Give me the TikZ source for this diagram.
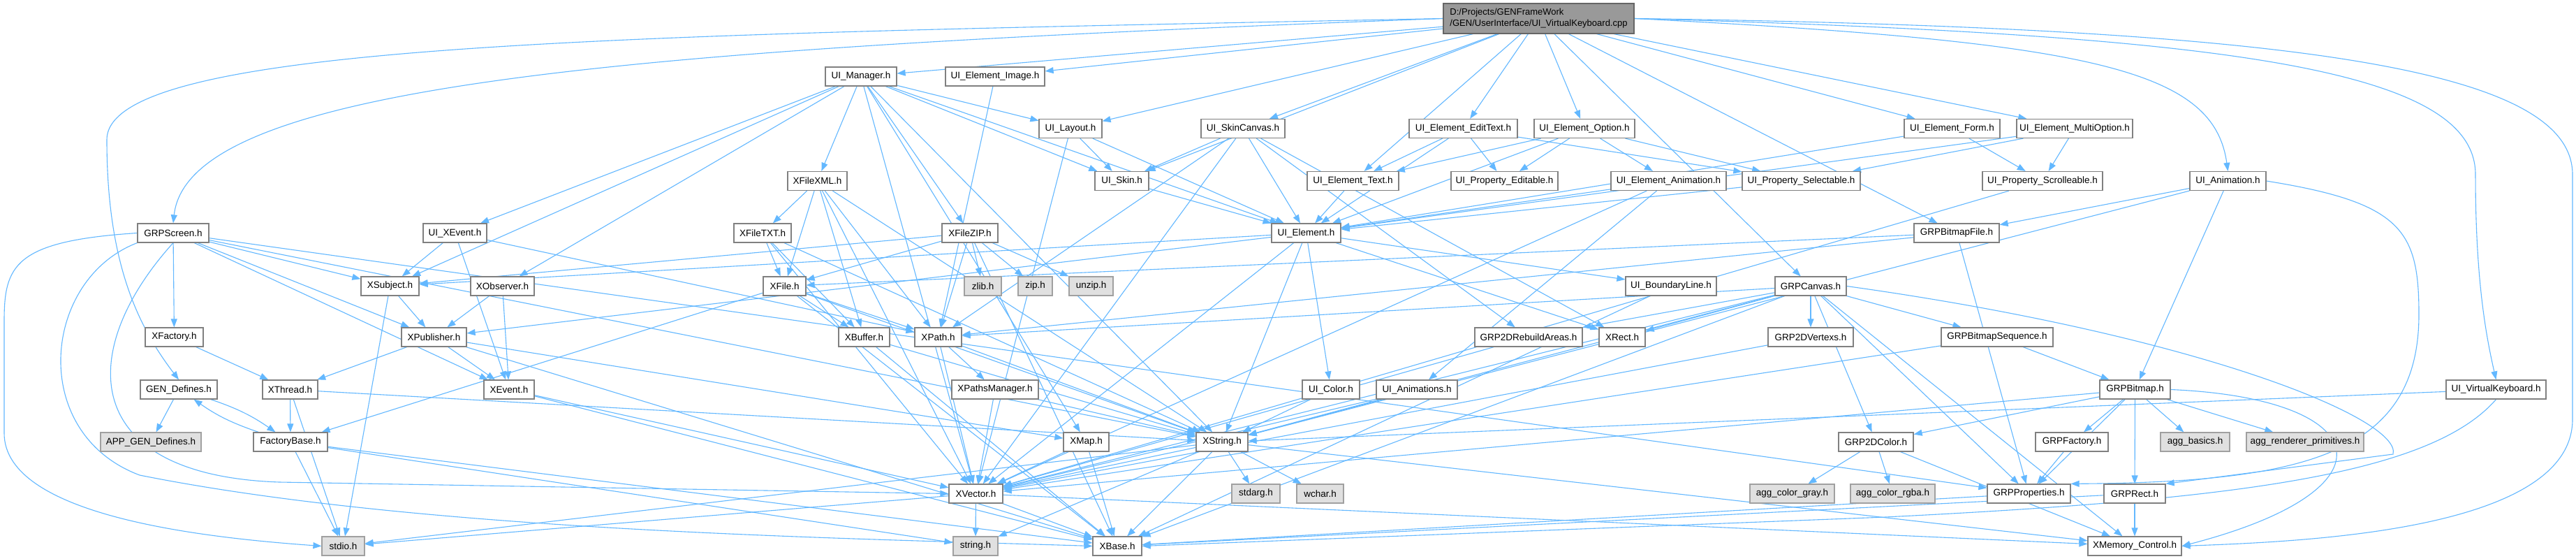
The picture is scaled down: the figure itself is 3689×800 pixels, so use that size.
\documentclass[tikz,border=0pt]{standalone}
\usepackage{fontspec}
\setmainfont{Liberation Sans}
\usetikzlibrary{arrows.meta}
\definecolor{edgec}{HTML}{63B8FF}
\definecolor{bord}{HTML}{808080}
\definecolor{gfill}{HTML}{E0E0E0}
\definecolor{gbord}{HTML}{A0A0A0}
\definecolor{mfill}{HTML}{999999}
\definecolor{mbord}{HTML}{666666}
\pgfdeclarelayer{bg}
\pgfsetlayers{bg,main}
\begin{document}
\begin{tikzpicture}[x=1pt,y=-1pt,
  box/.style={draw=bord, fill=white, line width=1.2pt, minimum height=27pt, inner sep=0pt, font=\fontsize{13.5}{15}\selectfont},
  gbox/.style={box, draw=gbord, fill=gfill},
  mbox/.style={box, draw=mbord, fill=mfill, minimum height=43pt, align=left, font=\fontsize{13}{16}\selectfont},
  inc/.style={draw=edgec, line width=1.1pt, -{Triangle[length=12pt,width=9pt]}}]
\useasboundingbox (0,0) rectangle (3689,800);
\begin{pgfonlayer}{bg}
\fill[white] (0,0) rectangle (3689,800);
\end{pgfonlayer}
% nodes
\node[mbox, minimum width=273pt] (M) at (2203.5,26.5) {D:/Projects/GENFrameWork\\/GEN/UserInterface/UI\_VirtualKeyboard.cpp};
\node[box, minimum width=102pt] (UIManager) at (1233,109.5) {UI\_Manager.h};
\node[box, minimum width=142pt] (UIElemImage) at (1425,109.5) {UI\_Element\_Image.h};
\node[box, minimum width=90pt] (UILayout) at (1533,184) {UI\_Layout.h};
\node[box, minimum width=120pt] (UISkinCanvas) at (1780,184) {UI\_SkinCanvas.h};
\node[box, minimum width=155pt] (UIElemEditText) at (2095.5,184) {UI\_Element\_EditText.h};
\node[box, minimum width=144pt] (UIElemOption) at (2269,184) {UI\_Element\_Option.h};
\node[box, minimum width=137pt] (UIElemForm) at (2795.5,184) {UI\_Element\_Form.h};
\node[box, minimum width=166pt] (UIElemMulti) at (2971,184) {UI\_Element\_MultiOption.h};
\node[box, minimum width=85pt] (XFileXML) at (1170.5,259) {XFileXML.h};
\node[box, minimum width=77pt] (UISkin) at (1606.5,259) {UI\_Skin.h};
\node[box, minimum width=131pt] (UIElemText) at (1937.5,259) {UI\_Element\_Text.h};
\node[box, minimum width=153pt] (UIPropEditable) at (2154.5,259) {UI\_Property\_Editable.h};
\node[box, minimum width=165pt] (UIElemAnimation) at (2389.5,259) {UI\_Element\_Animation.h};
\node[box, minimum width=169pt] (UIPropSelectable) at (2579.5,259) {UI\_Property\_Selectable.h};
\node[box, minimum width=172pt] (UIPropScrolleable) at (2925,259) {UI\_Property\_Scrolleable.h};
\node[box, minimum width=109pt] (UIAnimation) at (3190.5,259) {UI\_Animation.h};
\node[box, minimum width=102pt] (GRPScreen) at (248,333.5) {GRPScreen.h};
\node[box, minimum width=91pt] (UIXEvent) at (651.5,333.5) {UI\_XEvent.h};
\node[box, minimum width=82pt] (XFileTXT) at (1092,333.5) {XFileTXT.h};
\node[box, minimum width=80pt] (XFileZIP) at (1389,333.5) {XFileZIP.h};
\node[box, minimum width=99pt] (UIElement) at (1870.5,333.5) {UI\_Element.h};
\node[box, minimum width=122pt] (GRPBitmapFile) at (2802,333.5) {GRPBitmapFile.h};
\node[box, minimum width=83pt] (XSubject) at (558.5,409.5) {XSubject.h};
\node[box, minimum width=91pt] (XObserver) at (719.5,409.5) {XObserver.h};
\node[box, minimum width=61pt] (XFile) at (1123.5,409.5) {XFile.h};
\node[gbox, minimum width=53pt] (zlib) at (1407.5,409.5) {zlib.h};
\node[gbox, minimum width=49pt] (zip) at (1482.5,409.5) {zip.h};
\node[gbox, minimum width=63pt] (unzip) at (1562.5,409.5) {unzip.h};
\node[box, minimum width=130pt] (UIBoundaryLine) at (2393,409.5) {UI\_BoundaryLine.h};
\node[box, minimum width=102pt] (GRPCanvas) at (2593,409.5) {GRPCanvas.h};
\node[box, minimum width=83pt] (XFactory) at (249.5,482.5) {XFactory.h};
\node[box, minimum width=93pt] (XPublisher) at (621.5,482.5) {XPublisher.h};
\node[box, minimum width=73pt] (XBuffer) at (1237.5,482.5) {XBuffer.h};
\node[box, minimum width=67pt] (XPath) at (1343.5,482.5) {XPath.h};
\node[box, minimum width=154pt] (GRP2DRebuildAreas) at (2189,482.5) {GRP2DRebuildAreas.h};
\node[box, minimum width=66pt] (XRect) at (2323,482.5) {XRect.h};
\node[box, minimum width=122pt] (GRP2DVertexs) at (2593,482.5) {GRP2DVertexs.h};
\node[box, minimum width=160pt] (GRPBitmapSequence) at (2860,482.5) {GRPBitmapSequence.h};
\node[box, minimum width=110pt] (GENDefines) at (256,557.5) {GEN\_Defines.h};
\node[box, minimum width=79pt] (XThread) at (415.5,557.5) {XThread.h};
\node[box, minimum width=72pt] (XEvent) at (729,557.5) {XEvent.h};
\node[box, minimum width=124pt] (XPathsManager) at (1425,557.5) {XPathsManager.h};
\node[box, minimum width=82pt] (UIColor) at (1906,557.5) {UI\_Color.h};
\node[box, minimum width=116pt] (UIAnimations) at (2029,557.5) {UI\_Animations.h};
\node[box, minimum width=101pt] (GRPBitmap) at (3057.5,557.5) {GRPBitmap.h};
\node[box, minimum width=143pt] (UIVK) at (3574.5,557.5) {UI\_VirtualKeyboard.h};
\node[gbox, minimum width=144pt] (APPGEN) at (216,632.5) {APP\_GEN\_Defines.h};
\node[box, minimum width=106pt] (FactoryBase) at (416,632.5) {FactoryBase.h};
\node[box, minimum width=65pt] (XMap) at (1555.5,632.5) {XMap.h};
\node[box, minimum width=74pt] (XString) at (1750,632.5) {XString.h};
\node[box, minimum width=107pt] (GRP2DColor) at (2686.5,632.5) {GRP2DColor.h};
\node[box, minimum width=104pt] (GRPFactory) at (2967,632.5) {GRPFactory.h};
\node[gbox, minimum width=99pt] (aggbasics) at (3143.5,632.5) {agg\_basics.h};
\node[gbox, minimum width=168pt] (aggrender) at (3301,632.5) {agg\_renderer\_primitives.h};
\node[box, minimum width=77pt] (XVector) at (1397.5,706.5) {XVector.h};
\node[gbox, minimum width=69pt] (stdarg) at (1798.5,706.5) {stdarg.h};
\node[gbox, minimum width=67pt] (wchar) at (1890.5,706.5) {wchar.h};
\node[gbox, minimum width=121pt] (agggray) at (2566.5,706.5) {agg\_color\_gray.h};
\node[gbox, minimum width=121pt] (aggrgba) at (2710.5,706.5) {agg\_color\_rgba.h};
\node[box, minimum width=119pt] (GRPProperties) at (2905.5,706.5) {GRPProperties.h};
\node[box, minimum width=88pt] (GRPRect) at (3057,706.5) {GRPRect.h};
\node[gbox, minimum width=61pt] (stdio) at (491.5,781.5) {stdio.h};
\node[gbox, minimum width=64pt] (string) at (1397,781.5) {string.h};
\node[box, minimum width=70pt] (XBase) at (1600,781.5) {XBase.h};
\node[box, minimum width=134pt] (XMemCtrl) at (3057,781.5) {XMemory\_Control.h};
% edges
\begin{pgfonlayer}{bg}
\foreach \t in {UIManager,UIElemImage,UILayout,UISkin,UISkinCanvas,UIElemText,UIElemEditText,UIElemOption,UIElemForm,UIElemMulti,GRPBitmapFile,GRPCanvas}
  \draw[inc] (M) -- (\t);
\draw[inc] (M.west) .. controls (900,50) and (153,60) .. (153,200) .. controls (153,380) and (200,470) .. (GENDefines.north);
\draw[inc] (M.west) .. controls (900,70) and (270,120) .. (GRPScreen.north);
\draw[inc] (M.east) .. controls (3300,40) and (3684,100) .. (3684,250) -- (3684,600) .. controls (3684,760) and (3300,775) .. (XMemCtrl.east);
\draw[inc] (M.east) .. controls (3200,50) and (3545,100) .. (3545,250) .. controls (3545,400) and (3560,480) .. (UIVK.north);
\draw[inc] (M.east) .. controls (3000,60) and (3170,100) .. (UIAnimation.north);
\foreach \t in {UILayout,UISkin,UIElement,XFileXML,XFileZIP,UIXEvent,XObserver,XSubject,XVector,XString,XMap}
  \draw[inc] (UIManager) -- (\t);
\draw[inc] (UIElemImage) -- (XPath);
\foreach \t in {UISkin,UIElement,XVector}
  \draw[inc] (UILayout) -- (\t);
\foreach \t in {UISkin,UIElement,GRP2DRebuildAreas,XRect,XPath,XVector}
  \draw[inc] (UISkinCanvas) -- (\t);
\foreach \t in {UIElemText,UIPropEditable,UIPropSelectable,UIElement}
  \draw[inc] (UIElemEditText) -- (\t);
\foreach \t in {UIElemText,UIPropEditable,UIElemAnimation,UIPropSelectable,UIElement}
  \draw[inc] (UIElemOption) -- (\t);
\foreach \t in {UIPropScrolleable,UIElement}
  \draw[inc] (UIElemForm) -- (\t);
\foreach \t in {UIPropSelectable,UIPropScrolleable,UIElement}
  \draw[inc] (UIElemMulti) -- (\t);
\foreach \t in {GRPBitmapFile,GRPBitmap,XString}
  \draw[inc] (UIAnimation) -- (\t);
\draw[inc] (UIAnimation.east) .. controls (3440,290) and (3464,330) .. (3464,450) .. controls (3464,650) and (3300,690) .. (GRPProperties.north east);
\draw[inc] (UIVK) -- (XString);
\draw[inc] (UIVK.south) .. controls (3480,680) and (3200,715) .. (2700,740) -- (XBase.east);
\draw[inc] (GRPScreen.west) .. controls (20,345) and (6,380) .. (6,460) -- (6,620) .. controls (6,740) and (300,770) .. (stdio.west);
\draw[inc] (GRPScreen.south west) .. controls (60,400) and (40,620) .. (200,680) .. controls (600,760) and (1200,770) .. (XBase.west);
\draw[inc] (GRPScreen.south) .. controls (110,500) and (110,680) .. (400,690) -- (XVector.west);
\foreach \t in {XFactory,XEvent,XString,XPublisher,XSubject,GRPProperties}
  \draw[inc] (GRPScreen) -- (\t);
\foreach \t in {XSubject,XEvent,XPath}
  \draw[inc] (UIXEvent) -- (\t);
\foreach \t in {XFileTXT,XFile,XBuffer,XPath,XString,XVector}
  \draw[inc] (XFileXML) -- (\t);
\foreach \t in {XFile,XBuffer,XVector,XString}
  \draw[inc] (XFileTXT) -- (\t);
\foreach \t in {XSubject,XFile,XPath,zlib,zip,unzip,XBase}
  \draw[inc] (XFileZIP) -- (\t);
\draw[inc] (UISkin) -- (UIElement);
\draw[inc] (UIElemText) -- (UIElement);
\foreach \t in {UIElement,UIAnimations,XVector}
  \draw[inc] (UIElemAnimation) -- (\t);
\draw[inc] (UIPropSelectable) -- (UIElement);
\draw[inc] (UIPropScrolleable) -- (XVector);
\foreach \t in {XFile,XPath,GRPProperties}
  \draw[inc] (GRPBitmapFile) -- (\t);
\foreach \t in {XSubject,XPublisher,UIBoundaryLine,UIColor,XVector,XString,XRect}
  \draw[inc] (UIElement) -- (\t);
\foreach \t in {XPublisher,stdio}
  \draw[inc] (XSubject) -- (\t);
\foreach \t in {XPublisher,XEvent}
  \draw[inc] (XObserver) -- (\t);
\foreach \t in {XBuffer,XPath,XString,FactoryBase,XBase}
  \draw[inc] (XFile) -- (\t);
\draw[inc] (UIBoundaryLine) -- (XBase);
\foreach \t in {XPath,XVector,XString,XBase,GRP2DRebuildAreas,XRect,GRP2DVertexs,GRPBitmapSequence,GRP2DColor,GRPProperties}
  \draw[inc] (GRPCanvas) -- (\t);
\draw[inc] (GRPCanvas.east) .. controls (3150,480) and (3440,600) .. (3427,650) -- (GRPRect.north east);
\draw[inc] (GRPCanvas) -- (XMemCtrl);
\draw[inc] (XFactory) -- (XThread);
\foreach \t in {XThread,XEvent,XMap,XBase}
  \draw[inc] (XPublisher) -- (\t);
\foreach \t in {XBase,XString}
  \draw[inc] (XBuffer) -- (\t);
\foreach \t in {XVector,XPathsManager,XString}
  \draw[inc] (XPath) -- (\t);
\draw[inc] (GRP2DRebuildAreas) -- (XVector);
\draw[inc] (GRP2DVertexs) -- (XVector);
\foreach \t in {GRPBitmap,XVector}
  \draw[inc] (GRPBitmapSequence) -- (\t);
\draw[inc] (GENDefines) -- (APPGEN);
\draw[inc] (GENDefines) to[bend left=8] (FactoryBase);
\draw[inc] (FactoryBase) to[bend left=8] (GENDefines);
\foreach \t in {FactoryBase,stdio,XString}
  \draw[inc] (XThread) -- (\t);
\foreach \t in {XBase,XVector}
  \draw[inc] (XEvent) -- (\t);
\foreach \t in {XVector,XString}
  \draw[inc] (XPathsManager) -- (\t);
\draw[inc] (UIColor) -- (XString);
\foreach \t in {XVector,XString}
  \draw[inc] (UIAnimations) -- (\t);
\foreach \t in {GRP2DColor,GRPProperties,GRPFactory,GRPRect,aggbasics,aggrender,XVector}
  \draw[inc] (GRPBitmap) -- (\t);
\draw[inc] (GRPBitmap.east) .. controls (3400,570) and (3440,700) .. (XMemCtrl.east);
\foreach \t in {stdio,XBase,string}
  \draw[inc] (FactoryBase) -- (\t);
\foreach \t in {XVector,XBase}
  \draw[inc] (XMap) -- (\t);
\foreach \t in {XVector,XBase,string,stdarg,wchar,stdio,XMemCtrl}
  \draw[inc] (XString) -- (\t);
\foreach \t in {agggray,aggrgba,XMemCtrl}
  \draw[inc] (GRP2DColor) -- (\t);
\draw[inc] (GRPFactory) -- (GRPProperties);
\foreach \t in {XBase,string,stdio,XMemCtrl}
  \draw[inc] (XVector) -- (\t);
\draw[inc] (GRPProperties) -- (XBase);
\foreach \t in {XBase,XMemCtrl}
  \draw[inc] (GRPRect) -- (\t);
\end{pgfonlayer}
\end{tikzpicture}
\end{document}
